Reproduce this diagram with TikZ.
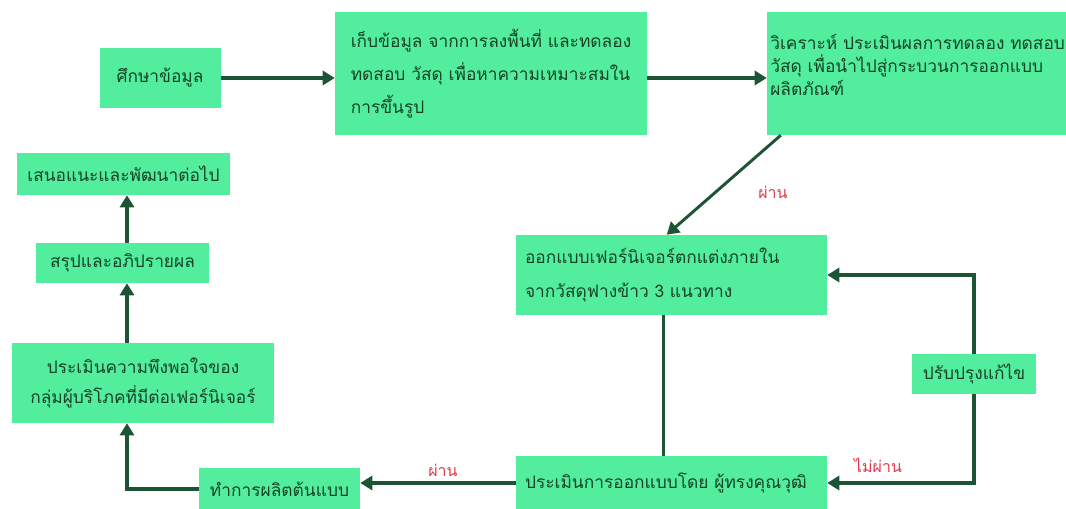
\documentclass[tikz,border=0pt]{standalone}
\usepackage{fontspec}
\setmainfont[Script=Thai]{Loma}
\usetikzlibrary{arrows.meta,calc}
\definecolor{boxg}{RGB}{82,238,158}
\definecolor{arrg}{RGB}{28,84,52}
\definecolor{txtg}{RGB}{22,66,38}
\definecolor{lblr}{RGB}{222,60,78}
\begin{document}
\begin{tikzpicture}[x=0.75pt,y=-0.75pt,
  box/.style={fill=boxg, draw=none, text=txtg, inner sep=0pt,
    font=\fontsize{13}{25}\selectfont},
  btext/.style={text=txtg, inner sep=0pt, align=left,
    font=\fontsize{13}{17.25}\selectfont},
  arr/.style={draw=arrg, line width=2.6pt, -{Triangle[length=9pt,width=10.5pt]}},
  conn/.style={draw=arrg, line width=2.6pt},
  lbl/.style={text=lblr, inner sep=0pt, font=\fontsize{12}{14}\selectfont}]
\useasboundingbox (0,0) rectangle (1066,509);
\clip (0,0) rectangle (1066,509);
\coordinate (colx) at (127,0);

\node[box, minimum width=90.75pt, minimum height=45pt] (n1) at (160,78) {ศึกษาข้อมูล};
\node[box, minimum width=234pt, minimum height=92.25pt, align=left] (n2) at (491,73.5)
  {เก็บข้อมูล จากการลงพื้นที่ และทดลอง\\ทดสอบ วัสดุ เพื่อหาความเหมาะสมใน\\การขึ้นรูป};
\node[box, minimum width=257.25pt, minimum height=92.25pt] (n3) at (938.5,73.5) {};
\node[btext, anchor=west] (n3t) at (770,65)
  {วิเคราะห์ ประเมินผลการทดลอง ทดสอบ\\วัสดุ เพื่อนำไปสู่กระบวนการออกแบบ\\ผลิตภัณฑ์};
\node[box, minimum width=233.25pt, minimum height=60pt, text width=219.75pt,
  inner xsep=6.75pt, align=left] (n4) at (671.5,275)
  {ออกแบบเฟอร์นิเจอร์ตกแต่งภายใน\\จากวัสดุฟางข้าว 3 แนวทาง};
\node[box, minimum width=233.25pt, minimum height=40.5pt, text width=219.75pt,
  inner xsep=6.75pt, align=left] (n5) at (671.5,483)
  {ประเมินการออกแบบโดย ผู้ทรงคุณวุฒิ};
\node[box, minimum width=93pt, minimum height=30pt] (n6) at (974,374) {ปรับปรุงแก้ไข};
\node[box, minimum width=120.75pt, minimum height=31.5pt] (n7) at (279.5,489) {ทำการผลิตต้นแบบ};
\node[box, minimum width=196.5pt, minimum height=60pt, align=center,
  font=\fontsize{13}{22}\selectfont] (n8) at (143,383)
  {ประเมินความพึงพอใจของ\\กลุ่มผู้บริโภคที่มีต่อเฟอร์นิเจอร์};
\node[box, minimum width=129.75pt, minimum height=30pt] (n9) at (122.5,263) {สรุปและอภิปรายผล};
\node[box, minimum width=159.75pt, minimum height=31.5pt] (n10) at (123.5,174) {เสนอแนะและพัฒนาต่อไป};

\draw[arr] (n1.east) -- (n1.east -| n2.west);
\draw[arr] (n2.east |- n1.east) -- (n1.east -| n3.west);
\draw[arr, line width=2.2pt] ($(n3.south west)+(14,0)$) -- ($(n4.north west)+(151,0)$);
\draw[conn] ($(n4.south west)+(148,0)$) -- ($(n5.north west)+(148,0)$);
\draw[arr] (n5.west) -- (n5.west -| n7.east);
\draw[arr] (n7.west) -| (colx |- n8.south);
\draw[arr] (colx |- n8.north) -- (colx |- n9.south);
\draw[arr] (colx |- n9.north) -- (colx |- n10.south);
\draw[arr] (n6.north) |- (n4.east);
\draw[arr] (n6.south) |- (n5.east);

\node[lbl] (l1) at (773,192) {ผ่าน};
\node[lbl] (l2) at (443,470) {ผ่าน};
\node[lbl] (l3) at (878,465) {ไม่ผ่าน};
\end{tikzpicture}
\end{document}
